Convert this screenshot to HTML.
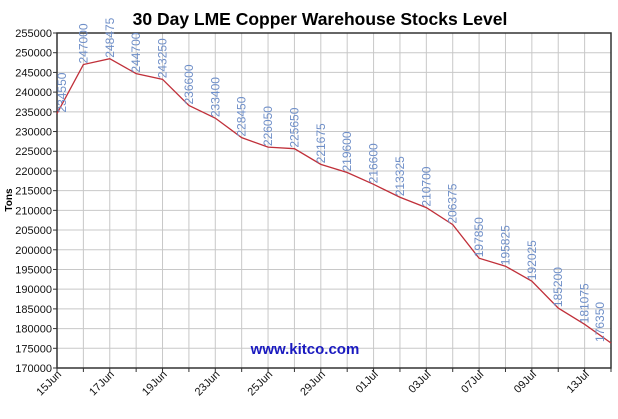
<!DOCTYPE html>
<html><head><meta charset="utf-8"><style>
html,body{margin:0;padding:0;background:#fff;}
svg{display:block;font-family:"Liberation Sans",Arial,sans-serif;}
</style></head><body>
<svg width="618" height="419" viewBox="0 0 618 419" xmlns="http://www.w3.org/2000/svg">
<rect width="618" height="419" fill="#fff"/>
<text x="320" y="25" text-anchor="middle" font-size="17.5" font-weight="bold" fill="#000">30 Day LME Copper Warehouse Stocks Level</text>
<g id="grid" stroke="#c8c8c8" stroke-width="1"></g>
<g id="ylab" font-size="11" fill="#111" text-anchor="end"></g>
<g id="xlab" font-size="11" fill="#111" text-anchor="end"></g>
<rect x="57" y="33" width="554" height="335" fill="none" stroke="#333" stroke-width="1.5"/>
<polyline id="line" fill="none" stroke="#c0303a" stroke-width="1.3"/>
<g id="vlab" font-size="12" fill="#6f8fc8"></g>
<text x="305" y="354" text-anchor="middle" font-size="15" font-weight="bold" fill="#1a1ac0">www.kitco.com</text>
<text transform="translate(12,200) rotate(-90)" text-anchor="middle" font-size="10" font-weight="bold" fill="#000">Tons</text>
<script>
var ns="http://www.w3.org/2000/svg";
var v=[234550,247000,248475,244700,243250,236600,233400,228450,226050,225650,221675,219600,216600,213325,210700,206375,197850,195825,192025,185200,181075,176350];
var d=["15Jun","17Jun","19Jun","23Jun","25Jun","29Jun","01Jul","03Jul","07Jul","09Jul","13Jul"];
function X(i){return 57+i*554/21;}
function Y(val){return 33+(255000-val)/85000*335;}
var g=document.getElementById("grid"),yl=document.getElementById("ylab"),xl=document.getElementById("xlab"),vl=document.getElementById("vlab");
function el(t,a,p,txt){var e=document.createElementNS(ns,t);for(var k in a)e.setAttribute(k,a[k]);if(txt)e.textContent=txt;p.appendChild(e);return e;}
for(var s=170000;s<=255000;s+=5000){var y=Y(s);el("line",{x1:57,x2:611,y1:y,y2:y},g);el("line",{x1:53,x2:57,y1:y,y2:y,stroke:"#333"},g);el("text",{x:52,y:y+4},yl,String(s));}
for(var i=0;i<22;i++){var x=X(i);el("line",{x1:x,x2:x,y1:33,y2:368},g);el("line",{x1:x,x2:x,y1:368,y2:372,stroke:"#333"},g);}
for(var j=0;j<11;j++){var x=X(2*j)+5;el("text",{transform:"translate("+x+",375) rotate(-45)"},xl,d[j]);}
var pts=[];for(var i=0;i<22;i++)pts.push(X(i)+","+Y(v[i]));
document.getElementById("line").setAttribute("points",pts.join(" "));
for(var i=0;i<22;i++){var x=Math.max(X(i)+4,66);if(i==21)x=X(i)-7;el("text",{transform:"translate("+x+","+(Y(v[i])-1)+") rotate(-90)"},vl,String(v[i]));}
</script>
</svg>
</body></html>
